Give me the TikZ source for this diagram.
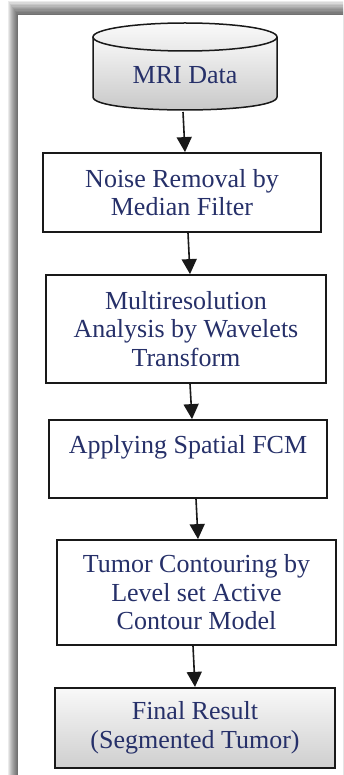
\documentclass[tikz,border=0pt]{standalone}
\usepackage{fontspec}
\setmainfont{Liberation Serif}
\usetikzlibrary{arrows.meta}
\definecolor{txtblue}{RGB}{38,48,105}
\tikzset{
  stepbox/.style={draw=black!90, line width=1.8pt, fill=white, align=center,
    text=txtblue, font=\fontsize{26pt}{28.5pt}\selectfont, inner sep=0pt},
  lbl/.style={text=txtblue, font=\fontsize{26pt}{28.5pt}\selectfont, inner sep=0pt},
  flow/.style={line width=1.6pt, draw=black!90, -{Triangle[length=15pt,width=15pt]}},
}
\begin{document}
\begin{tikzpicture}[x=1pt,y=-1pt]
\useasboundingbox (0,0) rectangle (343,775);
\clip (0,0) rectangle (343,775);
% frame with soft shadow on top and left
\foreach \i in {0,...,9}
  \fill[black,opacity=0.08] (8+\i,1+1.4*\i) rectangle (360,800);
\fill[white] (18,15) rectangle (360,800);
% cylinder
\path[top color=gray!6, bottom color=gray!45]
  (93,37) -- (93,97) .. controls (93,114.3) and (277,114.3) .. (277,97) -- (277,37) -- cycle;
\draw[line width=1.5pt, black!90]
  (93,37) -- (93,97) .. controls (93,114.3) and (277,114.3) .. (277,97) -- (277,37);
\draw[line width=1.5pt, black!90, top color=gray!4, bottom color=gray!18]
  (185,37) ellipse [x radius=92, y radius=14];
\node[lbl] (mri) at (185,75) {MRI Data};
\coordinate (mribot) at (183,112);
% boxes
\node[stepbox, minimum width=278pt, minimum height=79pt] (b1) at (182,192.5)
  {Noise Removal by\\Median Filter};
\node[stepbox, minimum width=280pt, minimum height=108pt] (b2) at (186,329)
  {Multiresolution\\Analysis by Wavelets\\Transform};
\node[stepbox, minimum width=278pt, minimum height=78pt] (b3) at (188,459)
  {Applying Spatial FCM\\\mbox{}};
\node[stepbox, minimum width=279pt, minimum height=105pt] (b4) at (196.5,592.5)
  {Tumor Contouring by\\Level set Active\\Contour Model};
\node[stepbox, line width=2.2pt, top color=gray!5, bottom color=gray!38,
      minimum width=280pt, minimum height=80pt] (b5) at (195,728)
  {Final Result\\(Segmented Tumor)};
% connectors
\draw[flow] (mribot) -- ([xshift=3pt]b1.north);
\draw[flow] ([xshift=6pt]b1.south) -- ([xshift=4pt]b2.north);
\draw[flow] ([xshift=4pt]b2.south) -- ([xshift=4pt]b3.north);
\draw[flow] ([xshift=8pt]b3.south) -- ([xshift=1.5pt]b4.north);
\draw[flow] ([xshift=-3.5pt]b4.south) -- (b5.north);
\end{tikzpicture}
\end{document}
